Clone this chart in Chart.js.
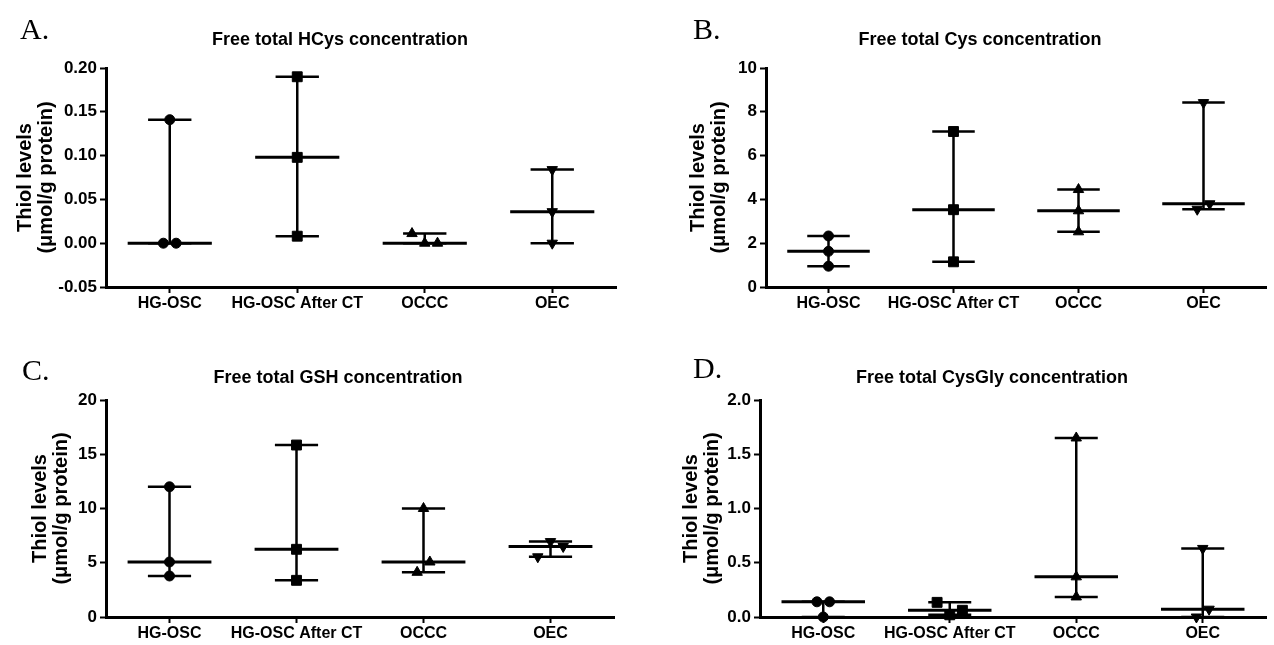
<!DOCTYPE html>
<html>
<head>
<meta charset="utf-8">
<script src="https://cdn.jsdelivr.net/npm/chart.js@4.4.1/dist/chart.umd.min.js"></script>
<style>
  html, body { margin: 0; padding: 0; background: #fff; }
  #wrap { position: relative; width: 1274px; height: 645px; overflow: hidden; }
  canvas { position: absolute; }
</style>
</head>
<body>
<div id="wrap">
  <canvas id="pA" width="637" height="322" style="left:0;top:0"></canvas>
  <canvas id="pB" width="637" height="322" style="left:637px;top:0"></canvas>
  <canvas id="pC" width="637" height="323" style="left:0;top:322px"></canvas>
  <canvas id="pD" width="637" height="323" style="left:637px;top:322px"></canvas>
</div>
<script>
// groups on the x axis
const categories = ['HG-OSC', 'HG-OSC After CT', 'OCCC', 'OEC'];

// individual values per group (µmol/g protein)
const hcysValues   = [[0.141, 0, 0], [0.190, 0.098, 0.008], [0.011, 0, 0], [0.084, 0.036, 0]];
const cysValues    = [[2.33, 1.63, 0.95], [7.1, 3.53, 1.15], [4.45, 3.48, 2.52], [8.42, 3.55, 3.8]];
const gshValues    = [[12.0, 5.07, 3.78], [15.85, 6.24, 3.38], [10.0, 4.12, 5.07], [5.55, 6.95, 6.5]];
const cysglyValues = [[0.14, 0.14, 0], [0.135, 0.02, 0.062], [1.65, 0.37, 0.185], [0.632, 0, 0.072]];

// y tick labels
const hcysTicks   = ['-0.05', '0.00', '0.05', '0.10', '0.15', '0.20'];
const cysTicks    = ['0', '2', '4', '6', '8', '10'];
const gshTicks    = ['0', '5', '10', '15', '20'];
const cysglyTicks = ['0.0', '0.5', '1.0', '1.5', '2.0'];

const titles = [
  'Free total HCys concentration',
  'Free total Cys concentration',
  'Free total GSH concentration',
  'Free total CysGly concentration'
];
const yTitle = ['Thiol levels', '(μmol/g protein)'];

Chart.defaults.font.family = '"Liberation Sans", Arial, sans-serif';
Chart.defaults.color = '#000';

const markers = [
  { style: 'circle', radius: 5, rotation: 0 },
  { style: 'rect', radius: 7, rotation: 0 },
  { style: 'triangle', radius: 6, rotation: 0 },
  { style: 'triangle', radius: 6, rotation: 180 }
];

// spread points that sit too close to each other, like the prism scatter
function spread(vals, center, span) {
  const tol = span * 0.055;
  const order = vals.map((v, i) => i).sort((a, b) => vals[b] - vals[a]);
  const clusters = [];
  order.forEach(i => {
    const last = clusters[clusters.length - 1];
    if (last && Math.abs(vals[last[last.length - 1]] - vals[i]) < tol) last.push(i);
    else clusters.push([i]);
  });
  const pts = [];
  clusters.forEach(c => {
    c.sort((a, b) => a - b);
    c.forEach((i, k) => pts.push({ x: center + (k - (c.length - 1) / 2) * 0.1, y: vals[i] }));
  });
  return pts;
}

// panel letter (serif) and the bold heading
const panelText = {
  id: 'panelText',
  afterDraw(chart, args, opts) {
    const ctx = chart.ctx;
    ctx.save();
    ctx.fillStyle = '#000';
    ctx.textBaseline = 'alphabetic';
    ctx.textAlign = 'left';
    ctx.font = '30px "Liberation Serif", "Times New Roman", serif';
    ctx.fillText(opts.letter, opts.lx, opts.ly);
    ctx.textBaseline = 'middle';
    ctx.textAlign = 'center';
    ctx.font = 'bold 18px "Liberation Sans", Arial, sans-serif';
    ctx.fillText(opts.title, opts.tx, opts.ty);
    ctx.restore();
  }
};

function makePanel(p) {
  const ymin = parseFloat(p.ticks[0]);
  const ymax = parseFloat(p.ticks[p.ticks.length - 1]);
  const span = ymax - ymin;

  const medianLine = [];
  const rangeLine = [];
  p.values.forEach((vals, i) => {
    const s = vals.slice().sort((a, b) => a - b);
    const lo = s[0], hi = s[s.length - 1], med = s[Math.floor(s.length / 2)];
    medianLine.push({ x: i - 0.33, y: med }, { x: i + 0.33, y: med }, { x: i, y: null });
    rangeLine.push(
      { x: i - 0.17, y: hi }, { x: i + 0.17, y: hi }, { x: i, y: null },
      { x: i, y: hi }, { x: i, y: lo }, { x: i, y: null },
      { x: i - 0.17, y: lo }, { x: i + 0.17, y: lo }, { x: i, y: null }
    );
  });

  const datasets = [
    { data: medianLine, showLine: true, borderColor: '#000', borderWidth: 3, pointRadius: 0, spanGaps: false, clip: false },
    { data: rangeLine, showLine: true, borderColor: '#000', borderWidth: 2.5, pointRadius: 0, spanGaps: false, clip: false }
  ];
  p.values.forEach((vals, i) => {
    datasets.push({
      data: spread(vals, i, span),
      pointStyle: markers[i].style,
      pointRadius: markers[i].radius,
      pointRotation: markers[i].rotation,
      backgroundColor: '#000',
      borderColor: '#000',
      borderWidth: 1,
      clip: false
    });
  });

  new Chart(document.getElementById(p.id), {
    type: 'scatter',
    data: { datasets },
    options: {
      responsive: false,
      animation: false,
      events: [],
      layout: { padding: p.pad },
      plugins: {
        legend: { display: false },
        tooltip: { enabled: false },
        title: { display: false },
        panelText: p.text
      },
      scales: {
        x: {
          type: 'linear',
          min: -0.5,
          max: 3.5,
          afterBuildTicks: s => { s.ticks = categories.map((c, i) => ({ value: i })); },
          afterFit: s => { s.height = 28; },
          ticks: {
            callback: v => categories[v],
            autoSkip: false,
            maxRotation: 0,
            padding: 1,
            color: '#000',
            font: { size: 16, weight: 'bold' }
          },
          grid: { drawOnChartArea: false, drawTicks: true, tickLength: 6, tickWidth: 2, tickColor: '#000' },
          border: { display: true, width: 3, color: '#000' }
        },
        y: {
          min: ymin,
          max: ymax,
          afterBuildTicks: s => { s.ticks = p.ticks.map(t => ({ value: parseFloat(t) })); },
          afterFit: s => { s.width = p.yWidth; },
          ticks: {
            callback: (v, i) => p.ticks[i],
            padding: 3,
            color: '#000',
            font: { size: 17, weight: 'bold' }
          },
          grid: { drawOnChartArea: false, drawTicks: true, tickLength: 6, tickWidth: 2, tickColor: '#000' },
          border: { display: true, width: 3, color: '#000' },
          title: {
            display: true,
            text: yTitle,
            color: '#000',
            font: { size: 20, weight: 'bold', lineHeight: 1.05 },
            padding: { top: 4.5, bottom: 0 }
          }
        }
      }
    },
    plugins: [panelText]
  });
}

makePanel({ id: 'pA', values: hcysValues, ticks: hcysTicks,
  pad: { left: 10, right: 21, top: 68, bottom: 7 }, yWidth: 96,
  text: { letter: 'A.', lx: 20, ly: 39, title: titles[0], tx: 340, ty: 40 } });
makePanel({ id: 'pB', values: cysValues, ticks: cysTicks,
  pad: { left: 46, right: 2, top: 68, bottom: 7 }, yWidth: 83,
  text: { letter: 'B.', lx: 56, ly: 39, title: titles[1], tx: 343, ty: 40 } });
makePanel({ id: 'pC', values: gshValues, ticks: gshTicks,
  pad: { left: 25, right: 23, top: 78, bottom: 0 }, yWidth: 81,
  text: { letter: 'C.', lx: 22, ly: 58, title: titles[2], tx: 338, ty: 56 } });
makePanel({ id: 'pD', values: cysglyValues, ticks: cysglyTicks,
  pad: { left: 39, right: 6, top: 78, bottom: 0 }, yWidth: 84,
  text: { letter: 'D.', lx: 56, ly: 56, title: titles[3], tx: 355, ty: 56 } });
</script>
</body>
</html>
